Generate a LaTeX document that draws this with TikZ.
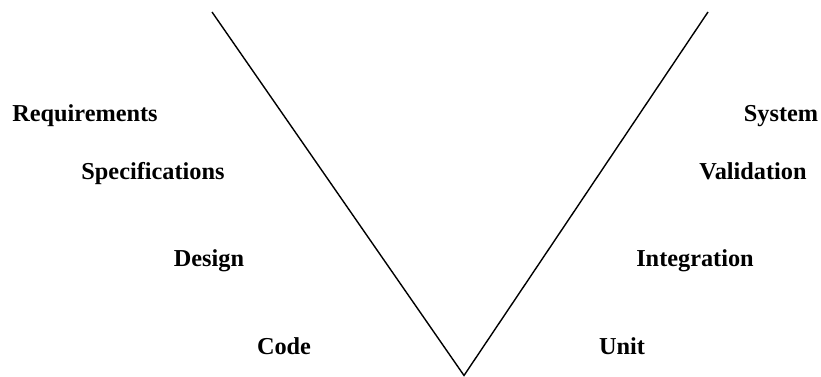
\documentclass[tikz,border=0pt]{standalone}
\usepackage{fontspec}
\setmainfont{Liberation Serif}
\begin{document}
\begin{tikzpicture}[x=1pt,y=1pt,
  lbl/.style={anchor=base,inner sep=0pt,font=\fontsize{24.3}{29}\selectfont\bfseries},
  vline/.style={line width=1.4pt,line join=miter}]
\useasboundingbox (0,0) rectangle (821,377);
\coordinate (lt) at (212,365);
\coordinate (bot) at (464,1.5);
\coordinate (rt) at (708,365);
\draw[vline] (lt) -- (bot) -- (rt);
\node[lbl] (req) at (85,255) {Requirements};
\node[lbl] (spec) at (153,197) {Specifications};
\node[lbl] (des) at (209,110) {Design};
\node[lbl] (code) at (284,22) {Code};
\node[lbl] (sys) at (781,255) {System};
\node[lbl] (val) at (753,197) {Validation};
\node[lbl] (int) at (695,110) {Integration};
\node[lbl] (unit) at (622,22) {Unit};
\end{tikzpicture}
\end{document}
